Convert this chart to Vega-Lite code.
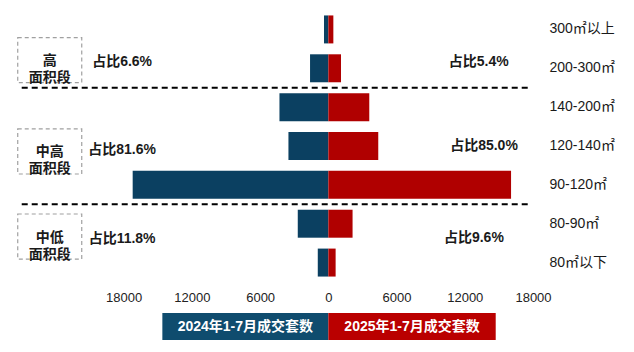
{
  "$schema": "https://vega.github.io/schema/vega-lite/v6.json",
  "width": 523,
  "height": 272,
  "autosize": {"type": "none"},
  "padding": {"left": 10, "top": 10, "right": 101, "bottom": 70},
  "background": "white",
  "config": {"view": {"stroke": null}, "font": "Liberation Sans, Noto Sans CJK SC"},
  "datasets": {
    "bars": [
      {"area": "300㎡以上", "year": "2024", "count": -380},
      {"area": "200-300㎡", "year": "2024", "count": -1610},
      {"area": "140-200㎡", "year": "2024", "count": -4300},
      {"area": "120-140㎡", "year": "2024", "count": -3510},
      {"area": "90-120㎡", "year": "2024", "count": -17210},
      {"area": "80-90㎡", "year": "2024", "count": -2690},
      {"area": "80㎡以下", "year": "2024", "count": -930},
      {"area": "300㎡以上", "year": "2025", "count": 440},
      {"area": "200-300㎡", "year": "2025", "count": 1115},
      {"area": "140-200㎡", "year": "2025", "count": 3600},
      {"area": "120-140㎡", "year": "2025", "count": 4390},
      {"area": "90-120㎡", "year": "2025", "count": 16070},
      {"area": "80-90㎡", "year": "2025", "count": 2130},
      {"area": "80㎡以下", "year": "2025", "count": 640}
    ],
    "dividers": [{"area": "200-300㎡"}, {"area": "90-120㎡"}],
    "boxes": [
      {"group": "高\n面积段", "x": -27320, "x2": -21690, "tx": -24500, "y": 0.71, "y2": 1.87, "ty": 1.31},
      {"group": "中高\n面积段", "x": -27320, "x2": -21690, "tx": -24500, "y": 3.06, "y2": 4.22, "ty": 3.65},
      {"group": "中低\n面积段", "x": -27320, "x2": -21690, "tx": -24500, "y": 5.25, "y2": 6.41, "ty": 5.86}
    ],
    "shares": [
      {"label": "占比6.6%", "x": -18140, "y": 1.33},
      {"label": "占比81.6%", "x": -18140, "y": 3.6},
      {"label": "占比11.8%", "x": -18140, "y": 5.89},
      {"label": "占比5.4%", "x": 13230, "y": 1.33},
      {"label": "占比85.0%", "x": 13690, "y": 3.5},
      {"label": "占比9.6%", "x": 12800, "y": 5.86}
    ],
    "legend": [
      {"year": "2024", "label": "2024年1-7月成交套数", "x": -14600, "x2": 0, "tx": -7300, "y": 7.8, "y2": 8.49, "ty": 8.15},
      {"year": "2025", "label": "2025年1-7月成交套数", "x": 0, "x2": 14720, "tx": 7360, "y": 7.8, "y2": 8.49, "ty": 8.15}
    ]
  },
  "layer": [
    {
      "layer": [
        {
          "data": {"name": "bars"},
          "mark": {"type": "bar", "height": {"band": 0.72}},
          "encoding": {
            "y": {
              "field": "area",
              "type": "nominal",
              "sort": ["300㎡以上", "200-300㎡", "140-200㎡", "120-140㎡", "90-120㎡", "80-90㎡", "80㎡以下"],
              "scale": {"domain": ["300㎡以上", "200-300㎡", "140-200㎡", "120-140㎡", "90-120㎡", "80-90㎡", "80㎡以下"], "paddingInner": 0, "paddingOuter": 0},
              "axis": {"orient": "right", "title": null, "domain": false, "ticks": false, "labelPadding": 16, "labelFontSize": 14, "labelColor": "#1a1a1a", "labelFont": "Liberation Sans, Noto Sans CJK SC"}
            },
            "x": {
              "field": "count",
              "type": "quantitative",
              "stack": null,
              "scale": {"domain": [-28000, 18000], "nice": false, "zero": false},
              "axis": {"values": [-18000, -12000, -6000, 0, 6000, 12000, 18000], "labelExpr": "format(abs(datum.value), 'd')", "title": null, "grid": false, "domain": false, "ticks": false, "labelFlush": false, "labelFontSize": 13, "labelColor": "#222222", "labelPadding": 9, "labelFont": "Liberation Sans"}
            },
            "color": {"field": "year", "type": "nominal", "scale": {"domain": ["2024", "2025"], "range": ["#0B4061", "#B00000"]}, "legend": null}
          }
        },
        {
          "mark": {"type": "rule", "color": "#9a9a9a", "strokeWidth": 1},
          "encoding": {"x": {"datum": 0}}
        },
        {
          "data": {"name": "dividers"},
          "mark": {"type": "rule", "color": "#000000", "strokeWidth": 2, "strokeDash": [6, 4]},
          "encoding": {
            "y": {"field": "area", "type": "nominal", "bandPosition": 1, "scale": {"domain": ["300㎡以上", "200-300㎡", "140-200㎡", "120-140㎡", "90-120㎡", "80-90㎡", "80㎡以下"], "paddingInner": 0, "paddingOuter": 0}},
            "x": {"datum": -26970},
            "x2": {"datum": 17800}
          }
        }
      ]
    },
    {
      "layer": [
        {
          "data": {"name": "boxes"},
          "mark": {"type": "rect", "fill": null, "stroke": "#a0a0a0", "strokeWidth": 1.2, "strokeDash": [4, 3]},
          "encoding": {
            "x": {"field": "x", "type": "quantitative"},
            "x2": {"field": "x2"},
            "y": {"field": "y", "type": "quantitative", "scale": {"domain": [0, 7], "reverse": true, "nice": false, "zero": false}, "axis": null},
            "y2": {"field": "y2"}
          }
        },
        {
          "data": {"name": "boxes"},
          "mark": {"type": "text", "lineBreak": "\n", "lineHeight": 17, "fontSize": 14, "fontWeight": "bold", "color": "#1a1a1a", "align": "center", "baseline": "middle", "font": "Noto Sans CJK SC"},
          "encoding": {
            "x": {"field": "tx", "type": "quantitative"},
            "y": {"field": "ty", "type": "quantitative"},
            "text": {"field": "group"}
          }
        },
        {
          "data": {"name": "shares"},
          "mark": {"type": "text", "fontSize": 14, "fontWeight": "bold", "color": "#1a1a1a", "align": "center", "baseline": "middle", "font": "Liberation Sans, Noto Sans CJK SC"},
          "encoding": {
            "x": {"field": "x", "type": "quantitative"},
            "y": {"field": "y", "type": "quantitative"},
            "text": {"field": "label"}
          }
        },
        {
          "data": {"name": "legend"},
          "mark": {"type": "rect"},
          "encoding": {
            "x": {"field": "x", "type": "quantitative"},
            "x2": {"field": "x2"},
            "y": {"field": "y", "type": "quantitative"},
            "y2": {"field": "y2"},
            "color": {"field": "year", "type": "nominal", "scale": {"domain": ["2024", "2025"], "range": ["#0F4C6E", "#BA0000"]}, "legend": null}
          }
        },
        {
          "data": {"name": "legend"},
          "mark": {"type": "text", "fontSize": 14, "fontWeight": "bold", "color": "#ffffff", "align": "center", "baseline": "middle", "font": "Liberation Sans, Noto Sans CJK SC"},
          "encoding": {
            "x": {"field": "tx", "type": "quantitative"},
            "y": {"field": "ty", "type": "quantitative"},
            "text": {"field": "label"}
          }
        }
      ],
      "resolve": {"scale": {"color": "independent"}}
    }
  ],
  "resolve": {"scale": {"y": "independent", "color": "independent"}}
}
